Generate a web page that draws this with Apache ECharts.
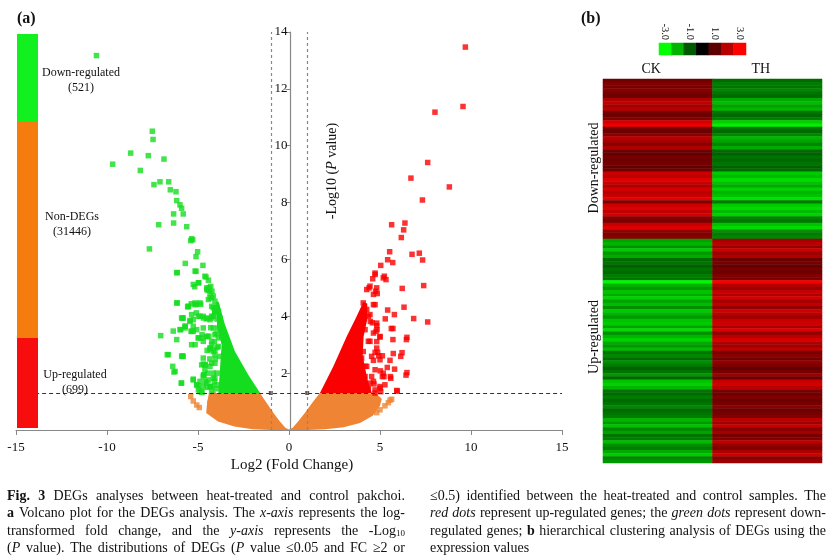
<!DOCTYPE html>
<html>
<head>
<meta charset="utf-8">
<script src="https://cdn.jsdelivr.net/npm/echarts/dist/echarts.min.js"></script>
<style>
  html, body { margin: 0; padding: 0; background: #fff; }
  #main { width: 833px; height: 560px; }
</style>
</head>
<body>
<div id="main"></div>
<script>
var chart = echarts.init(document.getElementById('main'));
var SERIF = '"Liberation Serif", "Times New Roman", "DejaVu Serif", serif';

// ---- volcano plot data (log2 FC, -log10 P) ----
var pCut = 1.301;   // -log10(0.05)
var fcCut = 1;      // log2(2)
var groupNames = ['Down-regulated', 'Non-DEGs', 'Up-regulated'];
var groupCounts = [521, 31446, 699];

var downPts = [
  [-10.58,13.17],[-7.51,10.51],[-7.47,10.22],[-8.70,9.74],[-7.73,9.65],[-6.87,9.53],[-9.69,9.35],
  [-8.17,9.13],[-7.42,8.63],[-7.09,8.73],[-6.61,8.73],[-6.52,8.45],[-6.21,8.38],[-6.17,8.07],
  [-5.99,7.92],[-5.90,7.80],[-6.34,7.60],[-5.81,7.60],[-7.16,7.22],[-6.34,7.28],[-5.62,7.15],
  [-5.35,6.73],[-7.67,6.37],[-5.40,6.66],[-5.29,6.69],[-5.02,6.27],[-5.11,6.10],[-5.70,5.86],
  [-4.73,5.79],[-6.14,5.54],[-5.11,5.58],[-4.96,5.18],[-5.18,5.04],[-4.56,5.38],[-4.43,5.27],
  [-4.45,4.91],[-4.23,4.88],[-6.14,4.47],[-5.57,4.33],[-5.37,4.44],[-5.09,4.42],[-4.85,4.42],
  [-5.86,3.94],[-5.44,3.85],[-5.09,4.12],[-4.89,4.00],[-4.54,3.91],[-5.70,3.65],[-5.95,3.53],
  [-6.36,3.48],[-5.38,3.47],[-5.07,3.53],[-7.05,3.32],[-6.17,3.18],[-5.35,3.00],[-4.98,3.24],
  [-4.71,3.12],[-4.52,3.29],[-6.69,2.65],[-5.86,2.61],[-4.32,2.88],[-4.71,2.32],[-6.39,2.24],
  [-6.32,2.04],[-4.67,1.94],[-5.26,1.79],[-5.92,1.65],[-5.07,1.59],[-4.31,1.53],[-4.78,1.32],
  [-4.16,4.71],[-4.07,4.53],[-3.97,4.35],[-4.16,4.30],[-3.88,4.18],[-4.07,4.10],[-3.80,3.95],
  [-4.25,4.00],[-4.30,3.60],[-4.40,3.30],[-4.25,3.00],[-4.50,2.80],[-4.35,2.50],[-4.60,2.30],
  [-4.45,2.00],[-4.60,1.70],[-4.50,1.50],[-6.17,5.53],[-5.16,5.59],[-4.62,5.41],[-5.26,5.12],
  [-4.98,5.18],[-4.34,4.65],[-4.52,4.94],[-5.53,4.35],[-5.16,4.41],[-5.81,3.94],[-5.26,3.88],
  [-4.71,4.00],[-5.71,3.59],[-5.26,3.47],[-4.71,3.59],[-4.81,3.24],[-4.34,2.82],[-5.90,2.59],
  [-4.71,2.53],[-6.26,2.06],[-4.62,2.29],[-4.71,1.88],[-4.16,1.82],[-4.98,1.55],[-4.25,1.53],
  [-4.81,1.35],[-4.52,1.65],
  [-4.52,5.00],[-4.34,4.82],[-4.43,4.59],[-4.25,4.35],[-4.07,4.18],[-4.16,4.00],[-4.34,3.88],
  [-3.88,3.59],[-4.07,3.35],[-3.70,3.29],[-4.25,3.12],[-3.88,2.94],[-4.16,2.76],[-3.79,2.59],
  [-4.07,2.35],[-4.34,2.24],[-4.62,2.12],[-4.16,2.00],[-4.43,1.76],[-3.97,1.59],[-4.71,1.53],
  [-4.98,1.41],[-4.25,1.36],
  [-6.17,4.47],[-5.53,4.35],[-5.16,4.47],[-4.89,4.47],[-5.35,4.06],[-5.90,3.94],[-4.98,4.00],
  [-4.70,3.94],[-4.52,3.94],[-5.44,3.82],[-5.71,3.65],[-5.26,3.65],[-5.99,3.53],[-5.35,3.47],
  [-4.78,3.35],[-4.52,3.29],[-4.98,3.24],[-5.16,3.00],[-4.34,2.88],[-4.07,2.82],[-6.63,2.65],
  [-5.81,2.59],[-4.07,2.65],[-4.25,2.35],[-4.80,2.29],[-4.70,1.94],[-4.07,1.82],[-5.26,1.76],
  [-4.89,1.71],[-4.34,1.53],[-5.90,1.65],[-5.07,1.59],[-4.89,1.35],[-4.40,5.00],[-4.30,5.05],
  [-4.25,4.65],[-4.07,4.18],[-4.25,3.94],[-4.16,3.59],[-3.88,3.24],[-4.00,1.45],[-4.10,1.70],
  [-3.95,2.00],[-4.05,2.50],[-3.95,2.90],[-4.10,3.10],[-4.00,3.40],[-3.95,3.90],[-4.05,4.30]
];

var upPts = [
  [9.69,13.47],[9.56,11.38],[8.02,11.18],[7.62,9.41],[6.70,8.86],[8.81,8.55],[7.33,8.09],
  [5.64,7.22],[6.37,7.28],[6.30,7.04],[6.17,6.77],[5.53,6.27],[5.42,5.99],[5.70,5.89],
  [6.76,6.18],[7.16,6.22],[7.34,5.98],[5.04,5.79],[7.40,5.08],[6.22,4.98],[4.40,5.00],
  [4.73,5.52],[4.60,5.32],[5.24,5.41],[5.33,5.29],[4.76,4.88],[4.85,4.80],[6.32,4.32],
  [5.42,4.22],[5.79,4.06],[6.85,3.92],[7.62,3.80],[5.29,3.91],[4.82,3.67],[4.84,3.53],
  [5.71,3.57],[5.00,3.27],[5.71,3.18],[6.48,3.26],[6.45,3.18],[4.82,3.11],[5.73,2.69],
  [6.21,2.72],[6.14,2.59],[5.55,2.45],[4.87,2.73],[4.93,2.61],[5.13,2.61],[5.40,2.20],
  [5.80,2.14],[5.02,2.08],[5.22,1.88],[5.57,1.88],[6.48,2.02],[6.43,1.93],[4.67,1.62],
  [5.00,1.53],[5.95,1.37],[4.73,1.30],[4.08,4.47],[4.73,4.41],[4.45,4.06],[4.58,3.77],
  [4.47,3.82],[4.78,3.47],[5.62,3.57],[4.45,3.12],[4.73,2.73],[3.99,2.53],[4.64,2.45],
  [4.18,2.24],[5.59,1.82],[4.54,1.88],[5.13,1.88],[4.45,1.65],[5.27,1.59],[5.92,1.39],
  [5.04,1.35],[4.73,1.41],
  [4.27,4.24],[4.64,4.41],[4.36,4.00],[4.82,3.76],[4.18,3.53],[4.64,3.41],[5.00,3.29],
  [4.36,3.12],[4.82,2.88],[4.08,2.76],[4.54,2.59],[5.00,2.47],[4.27,2.24],[4.73,2.12],
  [5.18,2.00],[4.18,1.88],[4.64,1.71],[3.90,1.59],[4.36,1.47],[5.00,1.47],[3.72,2.94],
  [3.90,2.35],[4.27,4.94],[4.64,4.77],[4.82,5.00],[5.18,5.35],[4.73,5.47],[4.45,5.06]
];

var nonPts = [
  [-5.40,1.18],[-5.26,1.02],[-5.07,0.88],[-4.93,0.79],[-4.34,0.94],[-4.16,1.26],
  [5.64,1.08],[5.46,0.96],[5.27,0.85],[5.00,0.71],[4.82,0.61],[5.55,1.05]
];

// outlines of the densely packed parts of each group
var nonCore = [
  [-4.40,1.30],[-1.60,1.30],[-1.20,0.92],[-0.85,0.60],[-0.50,0.30],[-0.20,0.08],[0,0.02],
  [0.20,0.08],[0.50,0.30],[0.90,0.62],[1.30,0.98],[1.70,1.30],[4.10,1.30],[4.80,1.27],
  [5.10,1.10],[5.00,0.85],[4.60,0.50],[3.90,0.25],[3.00,0.10],[2.00,0.03],[1.00,0],
  [-1.00,0],[-2.00,0.03],[-3.00,0.12],[-3.90,0.30],[-4.55,0.60],[-4.50,0.95]
];
var downCore = [
  [-1.59,1.30],[-2.24,1.94],[-2.97,2.76],[-3.52,3.71],[-3.88,4.53],[-4.00,4.50],[-3.95,3.60],
  [-3.70,3.00],[-3.79,2.18],[-3.88,1.30]
];
var upCore = [
  [1.70,1.30],[2.44,2.24],[3.17,3.29],[3.72,4.00],[4.08,4.50],[4.30,4.45],[4.30,3.90],
  [4.10,3.30],[4.05,2.60],[4.30,1.80],[4.55,1.30]
];

// ---- heatmap data (row-wise log2 expression, CK vs TH) ----
var sampleNames = ['CK', 'TH'];
var scaleTicks = ['-3.0', '-2.0', '-1.0', '0.0', '1.0', '2.0', '3.0'];
var scaleValues = [-3, -2, -1, 0, 1, 2, 3];
// down-regulated genes: high in CK, low in TH
var downRows = [
  1.2,1.4,1.3,1.5,1.3,1.2,1.9,2.1,1.8,2.0,
  1.3,1.2,1.4,2.4,2.8,1.3,1.2,1.5,2.0,1.8,
  1.5,1.9,1.2,1.1,1.3,1.2,1.3,1.1,1.2,2.3,
  2.1,2.5,2.2,1.9,2.4,2.0,2.2,2.6,1.4,2.3,
  2.5,2.1,2.4,1.5,1.3,2.2,2.5,1.6,1.4,1.5
];
// up-regulated genes: low in CK, high in TH
var upRows = [
  1.8,2.0,1.6,2.3,1.7,1.9,1.2,1.3,1.1,1.3,
  1.2,1.4,1.3,2.9,2.0,1.7,2.2,1.9,2.4,1.8,
  2.1,1.6,2.3,2.0,1.7,2.2,2.3,1.8,2.5,1.6,
  2.0,2.4,1.9,1.7,2.1,1.3,1.5,1.2,1.6,1.4,
  1.1,1.3,1.7,1.2,2.2,2.4,2.0,1.3,1.2,1.4,
  1.2,1.3,1.5,1.2,1.3,1.4,2.0,1.7,2.2,1.5,
  1.8,1.3,1.4,2.1,1.6,1.4,1.9,2.3,1.5,1.7
];

var heatData = [];
var rowIds = [];
downRows.forEach(function (v, i) {
  rowIds.push('d' + i);
  heatData.push([0, i, v], [1, i, -v]);
});
upRows.forEach(function (v, j) {
  var r = downRows.length + j;
  rowIds.push('u' + j);
  heatData.push([0, r, -v], [1, r, v]);
});
var scaleData = scaleValues.map(function (v, i) { return [i, 0, v]; });

function polygonSeries(points, color) {
  return {
    type: 'custom',
    xAxisIndex: 0,
    yAxisIndex: 0,
    silent: true,
    data: [[0, 0]],
    renderItem: function (params, api) {
      return {
        type: 'polygon',
        shape: { points: points.map(function (p) { return api.coord(p); }) },
        style: { fill: color }
      };
    }
  };
}

function dotSeries(points, color) {
  return {
    type: 'scatter',
    xAxisIndex: 0,
    yAxisIndex: 0,
    symbol: 'rect',
    symbolSize: 5.5,
    silent: true,
    itemStyle: { color: color },
    data: points
  };
}

function thresholdLines(xStart) {
  return [
    [{ coord: [xStart, pCut], lineStyle: { color: '#333', type: [4, 3], width: 1 } }, { coord: [15, pCut] }],
    [{ coord: [-fcCut, 0], lineStyle: { color: '#888', type: [3, 3], width: 1.2 } }, { coord: [-fcCut, 14] }],
    [{ coord: [fcCut, 0], lineStyle: { color: '#888', type: [3, 3], width: 1.2 } }, { coord: [fcCut, 14] }]
  ];
}

var colGreen = '#14dc1e', colRed = '#fa0000', colOrange = '#ee8434';

var option = {
  animation: false,
  backgroundColor: '#fff',
  textStyle: { fontFamily: SERIF },
  grid: [
    { left: 16, top: 32, width: 546, height: 398 },
    { left: 603, top: 79, width: 219, height: 384 },
    { left: 659, top: 43, width: 87, height: 12 }
  ],
  xAxis: [
    {
      type: 'value', gridIndex: 0, min: -15, max: 15, interval: 5,
      axisLine: { lineStyle: { color: '#888', width: 1.2 } },
      axisTick: { length: 5, lineStyle: { color: '#888' } },
      axisLabel: { color: '#111', fontSize: 13, fontFamily: SERIF, margin: 11 },
      splitLine: { show: false }
    },
    {
      type: 'category', gridIndex: 1, position: 'top', data: sampleNames,
      axisLine: { show: false }, axisTick: { show: false },
      axisLabel: { color: '#111', fontSize: 14, fontFamily: SERIF, margin: 3, padding: [0, 13, 0, 0] }
    },
    {
      type: 'category', gridIndex: 2, position: 'top', data: scaleTicks,
      axisLine: { show: false }, axisTick: { show: false },
      axisLabel: { color: '#111', fontSize: 10.5, fontFamily: SERIF, rotate: 90, margin: 3 }
    }
  ],
  yAxis: [
    {
      type: 'value', gridIndex: 0, min: 0, max: 14, interval: 2,
      axisLine: { show: true, onZero: false, lineStyle: { color: '#888', width: 1.2 } },
      axisTick: { show: true, length: 5, lineStyle: { color: '#888' } },
      axisLabel: { color: '#111', fontSize: 13, fontFamily: SERIF, margin: 3, showMinLabel: false },
      splitLine: { show: false }
    },
    { type: 'category', gridIndex: 1, inverse: true, data: rowIds, show: false },
    { type: 'category', gridIndex: 2, data: [''], show: false }
  ],
  visualMap: {
    type: 'continuous', show: false, min: -3, max: 3, seriesIndex: [7, 8],
    inRange: { color: ['#00ff00', '#00b400', '#005800', '#000000', '#5a0000', '#b80000', '#ff0000'] }
  },
  series: [
    polygonSeries(nonCore, colOrange),
    dotSeries(nonPts, colOrange),
    polygonSeries(downCore, colGreen),
    dotSeries(downPts, colGreen),
    polygonSeries(upCore, colRed),
    dotSeries(upPts, colRed),
    {
      // threshold lines
      type: 'scatter', xAxisIndex: 0, yAxisIndex: 0, silent: true,
      symbol: 'rect', symbolSize: 4, itemStyle: { color: '#333' },
      data: [[-fcCut, pCut], [fcCut, pCut]],
      markLine: {
        silent: true, symbol: 'none', label: { show: false },
        data: thresholdLines(-15)
      }
    },
    {
      type: 'heatmap', xAxisIndex: 1, yAxisIndex: 1, silent: true,
      data: heatData, itemStyle: { borderWidth: 0 }
    },
    {
      type: 'heatmap', xAxisIndex: 2, yAxisIndex: 2, silent: true,
      data: scaleData, itemStyle: { borderWidth: 0 }
    }
  ],
  graphic: []
};

// legend bar on the left of the volcano plot
var g = option.graphic;
var barColors = ['#12f020', '#f57d0d', '#f70d0d'];
var barLeft = 17, barWidth = 21;
var barTops = [34, 121, 338, 428];
var labelPos = [[81, 80], [72, 224], [75, 382]];
for (var k = 0; k < 3; k++) {
  g.push({ type: 'rect', z: 10, shape: { x: barLeft, y: barTops[k], width: barWidth, height: barTops[k + 1] - barTops[k] },
           style: { fill: barColors[k] } });
  g.push({ type: 'text', z: 10, x: labelPos[k][0], y: labelPos[k][1],
           style: { text: groupNames[k] + '\n(' + groupCounts[k] + ')', fill: '#111', fontSize: 12, fontFamily: SERIF,
                    lineHeight: 15, align: 'center', verticalAlign: 'middle', textAlign: 'center', textVerticalAlign: 'middle' } });
}

function txt(text, opts) {
  var s = { text: text, fill: '#111', fontSize: 13, fontFamily: SERIF,
            align: 'left', verticalAlign: 'middle', textAlign: 'left', textVerticalAlign: 'middle' };
  for (var key in opts) s[key] = opts[key];
  if (opts.align) s.textAlign = opts.align;
  return s;
}

g.push({ type: 'text', x: 17, y: 19, style: txt('(a)', { fontSize: 16, fontWeight: 'bold' }) });
g.push({ type: 'text', x: 581, y: 19, style: txt('(b)', { fontSize: 16, fontWeight: 'bold' }) });
g.push({ type: 'text', x: 292, y: 465, style: txt('Log2 (Fold Change)', { fontSize: 15, align: 'center' }) });
g.push({ type: 'text', x: 332, y: 171, rotation: Math.PI / 2,
         style: txt('-Log10 ({i|P} value)', { fontSize: 14, align: 'center',
                    rich: { i: { fontStyle: 'italic', fontSize: 14, fontFamily: SERIF } } }) });
g.push({ type: 'text', x: 594, y: 168, rotation: Math.PI / 2,
         style: txt('Down-regulated', { fontSize: 14, align: 'center' }) });
g.push({ type: 'text', x: 594, y: 337, rotation: Math.PI / 2,
         style: txt('Up-regulated', { fontSize: 14, align: 'center' }) });

// caption, justified word by word like the printed figure legend
var CAP_SIZE = 14;
var captionLeft = [
  '{b|Fig.} {b|3} DEGs analyses between heat-treated and control pakchoi.',
  '{b|a} Volcano plot for the DEGs analysis. The {i|x-axis} represents the log-',
  'transformed fold change, and the {i|y-axis} represents the -Log{s|10}',
  '({i|P} value). The distributions of DEGs ({i|P} value \u22640.05 and FC \u22652 or'
];
var captionRight = [
  '\u22640.5) identified between the heat-treated and control samples. The',
  '{i|red} {i|dots} represent up-regulated genes; the {i|green} {i|dots} represent down-',
  'regulated genes; {b|b} hierarchical clustering analysis of DEGs using the',
  'expression values'
];
var capRich = {
  b: { fontWeight: 'bold', fontSize: CAP_SIZE, fontFamily: SERIF },
  i: { fontStyle: 'italic', fontSize: CAP_SIZE, fontFamily: SERIF },
  s: { fontSize: 9, fontFamily: SERIF, padding: [6, 0, 0, 0] }
};
var ctx = document.createElement('canvas').getContext('2d');
function wordWidth(word) {
  var w = 0, re = /\{(\w)\|([^}]*)\}|([^{]+)/g, m;
  while ((m = re.exec(word))) {
    var style = m[1], t = m[2] !== undefined ? m[2] : m[3];
    var size = style === 's' ? 9 : CAP_SIZE;
    var pre = style === 'b' ? 'bold ' : style === 'i' ? 'italic ' : '';
    ctx.font = pre + size + 'px ' + SERIF;
    w += ctx.measureText(t).width;
  }
  return w;
}
function layCaption(lines, x0, width, lastRagged) {
  ctx.font = CAP_SIZE + 'px ' + SERIF;
  var space = ctx.measureText(' ').width;
  var capY = [496, 513.5, 531, 548];
  lines.forEach(function (line, i) {
    var words = line.split(' ');
    var ws = words.map(wordWidth);
    var total = ws.reduce(function (a, b) { return a + b; }, 0);
    var gap = (lastRagged && i === lines.length - 1) ? space : (width - total) / (words.length - 1);
    var x = x0;
    words.forEach(function (w, j) {
      g.push({ type: 'text', x: x, y: capY[i], style: txt(w, { fontSize: CAP_SIZE, rich: capRich }) });
      x += ws[j] + gap;
    });
  });
}
layCaption(captionLeft, 7, 398, false);
layCaption(captionRight, 430, 396, true);

chart.setOption(option);

// put the y axis (line, ticks and labels) on x = 0 like the original,
// and start the P cut-off line where the legend bar ends
var x0px = chart.convertToPixel({ xAxisIndex: 0 }, 0);
var lineStart = chart.convertFromPixel({ xAxisIndex: 0 }, barLeft + barWidth);
chart.setOption({
  yAxis: [{ offset: -(x0px - option.grid[0].left) }],
  series: [{}, {}, {}, {}, {}, {}, { markLine: { data: thresholdLines(lineStart) } }]
});
</script>
</body>
</html>
